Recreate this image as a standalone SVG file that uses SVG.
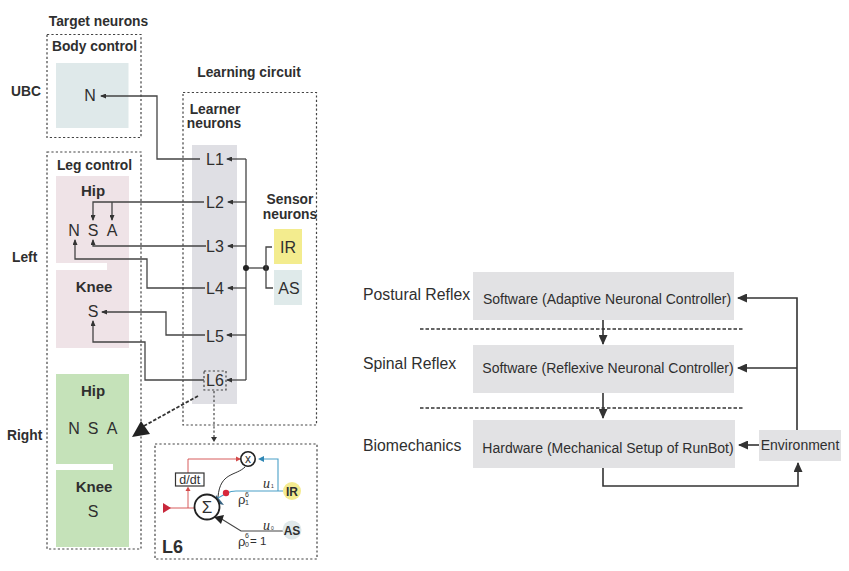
<svg xmlns="http://www.w3.org/2000/svg" width="849" height="571" viewBox="0 0 849 571">
<style>
text{font-family:"Liberation Sans",Arial,sans-serif;fill:#2f2f2f}
.b{font-weight:bold;font-size:13.8px}
.n{font-size:16px}
.r{font-size:14px}
.l{font-size:15.800px}
.h{font-size:15px;font-weight:bold}
.box{fill:none;stroke:#444;stroke-width:1.2;stroke-dasharray:2.2 2.2}
.c{fill:none;stroke:#444;stroke-width:1.3}
.t{fill:none;stroke:#333;stroke-width:1.6}
</style>
<defs>
<marker id="a" markerUnits="userSpaceOnUse" markerWidth="6" markerHeight="5" refX="5" refY="2.500" orient="auto"><path d="M0 0L6 2.500L0 5z" fill="#333"/></marker>
<marker id="big" markerUnits="userSpaceOnUse" markerWidth="10" markerHeight="9" refX="9" refY="4.500" orient="auto"><path d="M0 0L10 4.500L0 9z" fill="#333"/></marker>
</defs>
<rect width="849" height="571" fill="#fff"/>
<g id="titles">
<text x="98.500" y="26" class="b" text-anchor="middle">Target neurons</text>
<text x="249" y="77" class="b" text-anchor="middle">Learning circuit</text>
<text x="11" y="96" class="b">UBC</text>
<text x="12" y="262" class="b">Left</text>
<text x="7" y="440" class="b">Right</text>
</g>
<g id="body-control">
<rect x="47" y="34.500" width="94" height="103" class="box"/>
<text x="94.500" y="51" class="b" text-anchor="middle">Body control</text>
<rect x="56" y="63" width="72.500" height="65" fill="#dfe9ea"/>
<text x="90" y="101" class="n" text-anchor="middle">N</text>
</g>
<g id="leg-control">
<rect x="47" y="152" width="94" height="397" class="box"/>
<text x="94.500" y="170" class="b" text-anchor="middle">Leg control</text>
<rect x="56" y="176" width="73" height="172" fill="#efe3e7"/>
<rect x="56" y="263" width="51" height="7" fill="#fff"/>
<text x="93" y="196" class="h" text-anchor="middle">Hip</text>
<text x="74" y="236" class="n" text-anchor="middle">N</text>
<text x="93" y="236" class="n" text-anchor="middle">S</text>
<text x="112" y="236" class="n" text-anchor="middle">A</text>
<text x="94" y="292" class="h" text-anchor="middle">Knee</text>
<text x="93" y="317" class="n" text-anchor="middle">S</text>
</g>
<g id="right-leg">
<rect x="56" y="374" width="73" height="173" fill="#c5e2b9"/>
<rect x="56" y="464" width="57" height="6" fill="#fff"/>
<text x="93" y="396" class="h" text-anchor="middle">Hip</text>
<text x="74" y="434" class="n" text-anchor="middle">N</text>
<text x="93" y="434" class="n" text-anchor="middle">S</text>
<text x="112" y="434" class="n" text-anchor="middle">A</text>
<text x="94" y="492" class="h" text-anchor="middle">Knee</text>
<text x="93" y="517" class="n" text-anchor="middle">S</text>
</g>
<g id="learning-circuit">
<rect x="183" y="92.500" width="133.500" height="332.500" class="box"/>
<text x="215" y="114" class="b" text-anchor="middle">Learner</text>
<text x="214" y="128" class="b" text-anchor="middle">neurons</text>
<rect x="192" y="145" width="45" height="259" fill="#dfdfe4"/>
<text x="215" y="165" class="n" text-anchor="middle">L1</text>
<text x="215" y="208" class="n" text-anchor="middle">L2</text>
<text x="215" y="252" class="n" text-anchor="middle">L3</text>
<text x="215" y="294" class="n" text-anchor="middle">L4</text>
<text x="215" y="342" class="n" text-anchor="middle">L5</text>
<text x="215" y="386" class="n" text-anchor="middle">L6</text>
<rect x="204" y="371" width="22" height="19" class="box"/>
</g>
<g id="sensor-neurons">
<text x="290" y="204" class="b" text-anchor="middle">Sensor</text>
<text x="290" y="219" class="b" text-anchor="middle">neurons</text>
<rect x="274" y="229" width="28" height="35" fill="#f3ec8e"/>
<rect x="274" y="270" width="28" height="35" fill="#dfeaea"/>
<text x="288" y="253" class="n" text-anchor="middle">IR</text>
<text x="289" y="294" class="n" text-anchor="middle">AS</text>
</g>
<g id="connectors">
<path class="c" d="M200 159H157V96H101" marker-end="url(#a)"/>
<path class="c" d="M204 202H93V220" marker-end="url(#a)"/>
<path class="c" d="M112 202V220" marker-end="url(#a)"/>
<path class="c" d="M206 246H93V240" marker-end="url(#a)"/>
<path class="c" d="M205 288H147V259H75V240" marker-end="url(#a)"/>
<path class="c" d="M205 335H166V312H102" marker-end="url(#a)"/>
<path class="c" d="M204 380H145V342H93V321" marker-end="url(#a)"/>
<path class="c" d="M246 159V380" stroke-width="1.800"/>
<path class="c" d="M246 159H227" marker-end="url(#a)"/>
<path class="c" d="M246 202H228" marker-end="url(#a)"/>
<path class="c" d="M246 246H228" marker-end="url(#a)"/>
<path class="c" d="M246 288H228" marker-end="url(#a)"/>
<path class="c" d="M246 335H227" marker-end="url(#a)"/>
<path class="c" d="M246 380H227" marker-end="url(#a)"/>
<path class="c" d="M246 268H266" stroke-width="1.800"/>
<circle cx="246" cy="268" r="3" fill="#222"/>
<circle cx="266" cy="268" r="3" fill="#222"/>
<path class="c" d="M272 247H266V288H273"/>
<path d="M198 396L142 427" fill="none" stroke="#333" stroke-width="1.800" stroke-dasharray="3.500 1.800"/>
<path d="M141 421L132 437L150 434z" fill="#222"/>
<path class="box" d="M214 391V439"/>
<path d="M211 437L214 442L217 437z" fill="#333"/>
</g>
<g id="l6-detail">
<rect x="155" y="444" width="162" height="115" class="box"/>
<path d="M163 508H195M188 508V491M188 473V459H241" fill="none" stroke="#d34a4a" stroke-width="0.900"/>
<path d="M163 503L171 508L163 513z" fill="#c8283c"/>
<path d="M185.500 491L188 486.500L190.500 491z" fill="#d34a4a"/>
<path d="M236 456.500L241 459L236 461.500z" fill="#d34a4a"/>
<rect x="175.500" y="473" width="28.500" height="13" fill="#fff" stroke="#333" stroke-width="1.200"/>
<text x="189.800" y="484" font-size="12.500" text-anchor="middle">d/dt</text>
<path d="M283 491H236Q231 491 227 493L218 498" fill="none" stroke="#4aa0c8" stroke-width="1.100"/>
<path d="M278 491V459H262" fill="none" stroke="#4aa0c8" stroke-width="1.100"/>
<path d="M264 456L258 459L264 462z" fill="#2f87b5"/>
<circle cx="226" cy="493" r="3.200" fill="#d8283c"/>
<path d="M245 467C236 476 220 472 218 497" fill="none" stroke="#333" stroke-width="1"/>
<path d="M216 495L224 505L215 503z" fill="#35607f"/>
<path d="M283 531H241L220 518" fill="none" stroke="#444" stroke-width="1.100"/>
<path d="M214 517L224 515L221 524z" fill="#222"/>
<circle cx="207" cy="507" r="12.500" fill="#fff" stroke="#222" stroke-width="1.800"/>
<text x="207" y="513" font-size="17" text-anchor="middle">Σ</text>
<circle cx="248" cy="459" r="7.200" fill="#fff" stroke="#222" stroke-width="1.600"/>
<text x="248" y="463" font-size="12" text-anchor="middle">x</text>
<circle cx="292" cy="491" r="9" fill="#f4eb90"/>
<circle cx="292" cy="530" r="9.500" fill="#dfe8ea"/>
<text x="292" y="495.500" font-size="12" font-weight="bold" text-anchor="middle">IR</text>
<text x="292" y="534.500" font-size="12" font-weight="bold" text-anchor="middle">AS</text>
<text x="263" y="488" font-size="14" font-style="italic" style="font-family:'Liberation Serif',serif">u</text>
<text x="271" y="488" font-size="5">1</text>
<text x="263" y="530" font-size="14" font-style="italic" style="font-family:'Liberation Serif',serif">u</text>
<text x="271" y="530" font-size="5">0</text>
<text x="238" y="504" font-size="13">ρ</text>
<text x="245" y="497" font-size="7">6</text>
<text x="245" y="505" font-size="7">1</text>
<text x="238" y="546" font-size="13">ρ</text>
<text x="245" y="538" font-size="7">6</text>
<text x="245" y="547" font-size="7">0</text>
<text x="250" y="545" font-size="11.500">= 1</text>
<text x="162" y="553" font-size="18" font-weight="bold">L6</text>
</g>
<g id="postural-reflex">
<text x="363" y="300" class="l">Postural Reflex</text>
<rect x="473" y="272" width="261" height="48" fill="#e2e2e4"/>
<text x="607" y="304" class="r" text-anchor="middle">Software (Adaptive Neuronal Controller)</text>
</g>
<g id="spinal-reflex">
<text x="363" y="369" class="l">Spinal Reflex</text>
<rect x="473" y="345" width="261" height="48" fill="#e2e2e4"/>
<text x="608" y="373" class="r" text-anchor="middle">Software (Reflexive Neuronal Controller)</text>
</g>
<g id="biomechanics">
<text x="363" y="451" class="l">Biomechanics</text>
<rect x="473" y="420" width="262" height="48" fill="#e2e2e4"/>
<text x="608" y="453" class="r" text-anchor="middle">Hardware (Mechanical Setup of RunBot)</text>
</g>
<g id="environment">
<rect x="759" y="430" width="82" height="31" fill="#e2e2e4"/>
<text x="800" y="450" class="r" text-anchor="middle">Environment</text>
</g>
<g id="right-connectors">
<path d="M420 329H744M420 408H744" fill="none" stroke="#333" stroke-width="1.300" stroke-dasharray="3.500 2"/>
<path class="t" d="M603 320V344" marker-end="url(#big)"/>
<path class="t" d="M603 393V418" marker-end="url(#big)"/>
<path class="t" d="M797 430V298H738" marker-end="url(#big)"/>
<path class="t" d="M797 368H738" marker-end="url(#big)"/>
<path class="t" d="M759 445H739" marker-end="url(#big)"/>
<path class="t" d="M603 468V486H798V463" marker-end="url(#big)"/>
</g>
</svg>
